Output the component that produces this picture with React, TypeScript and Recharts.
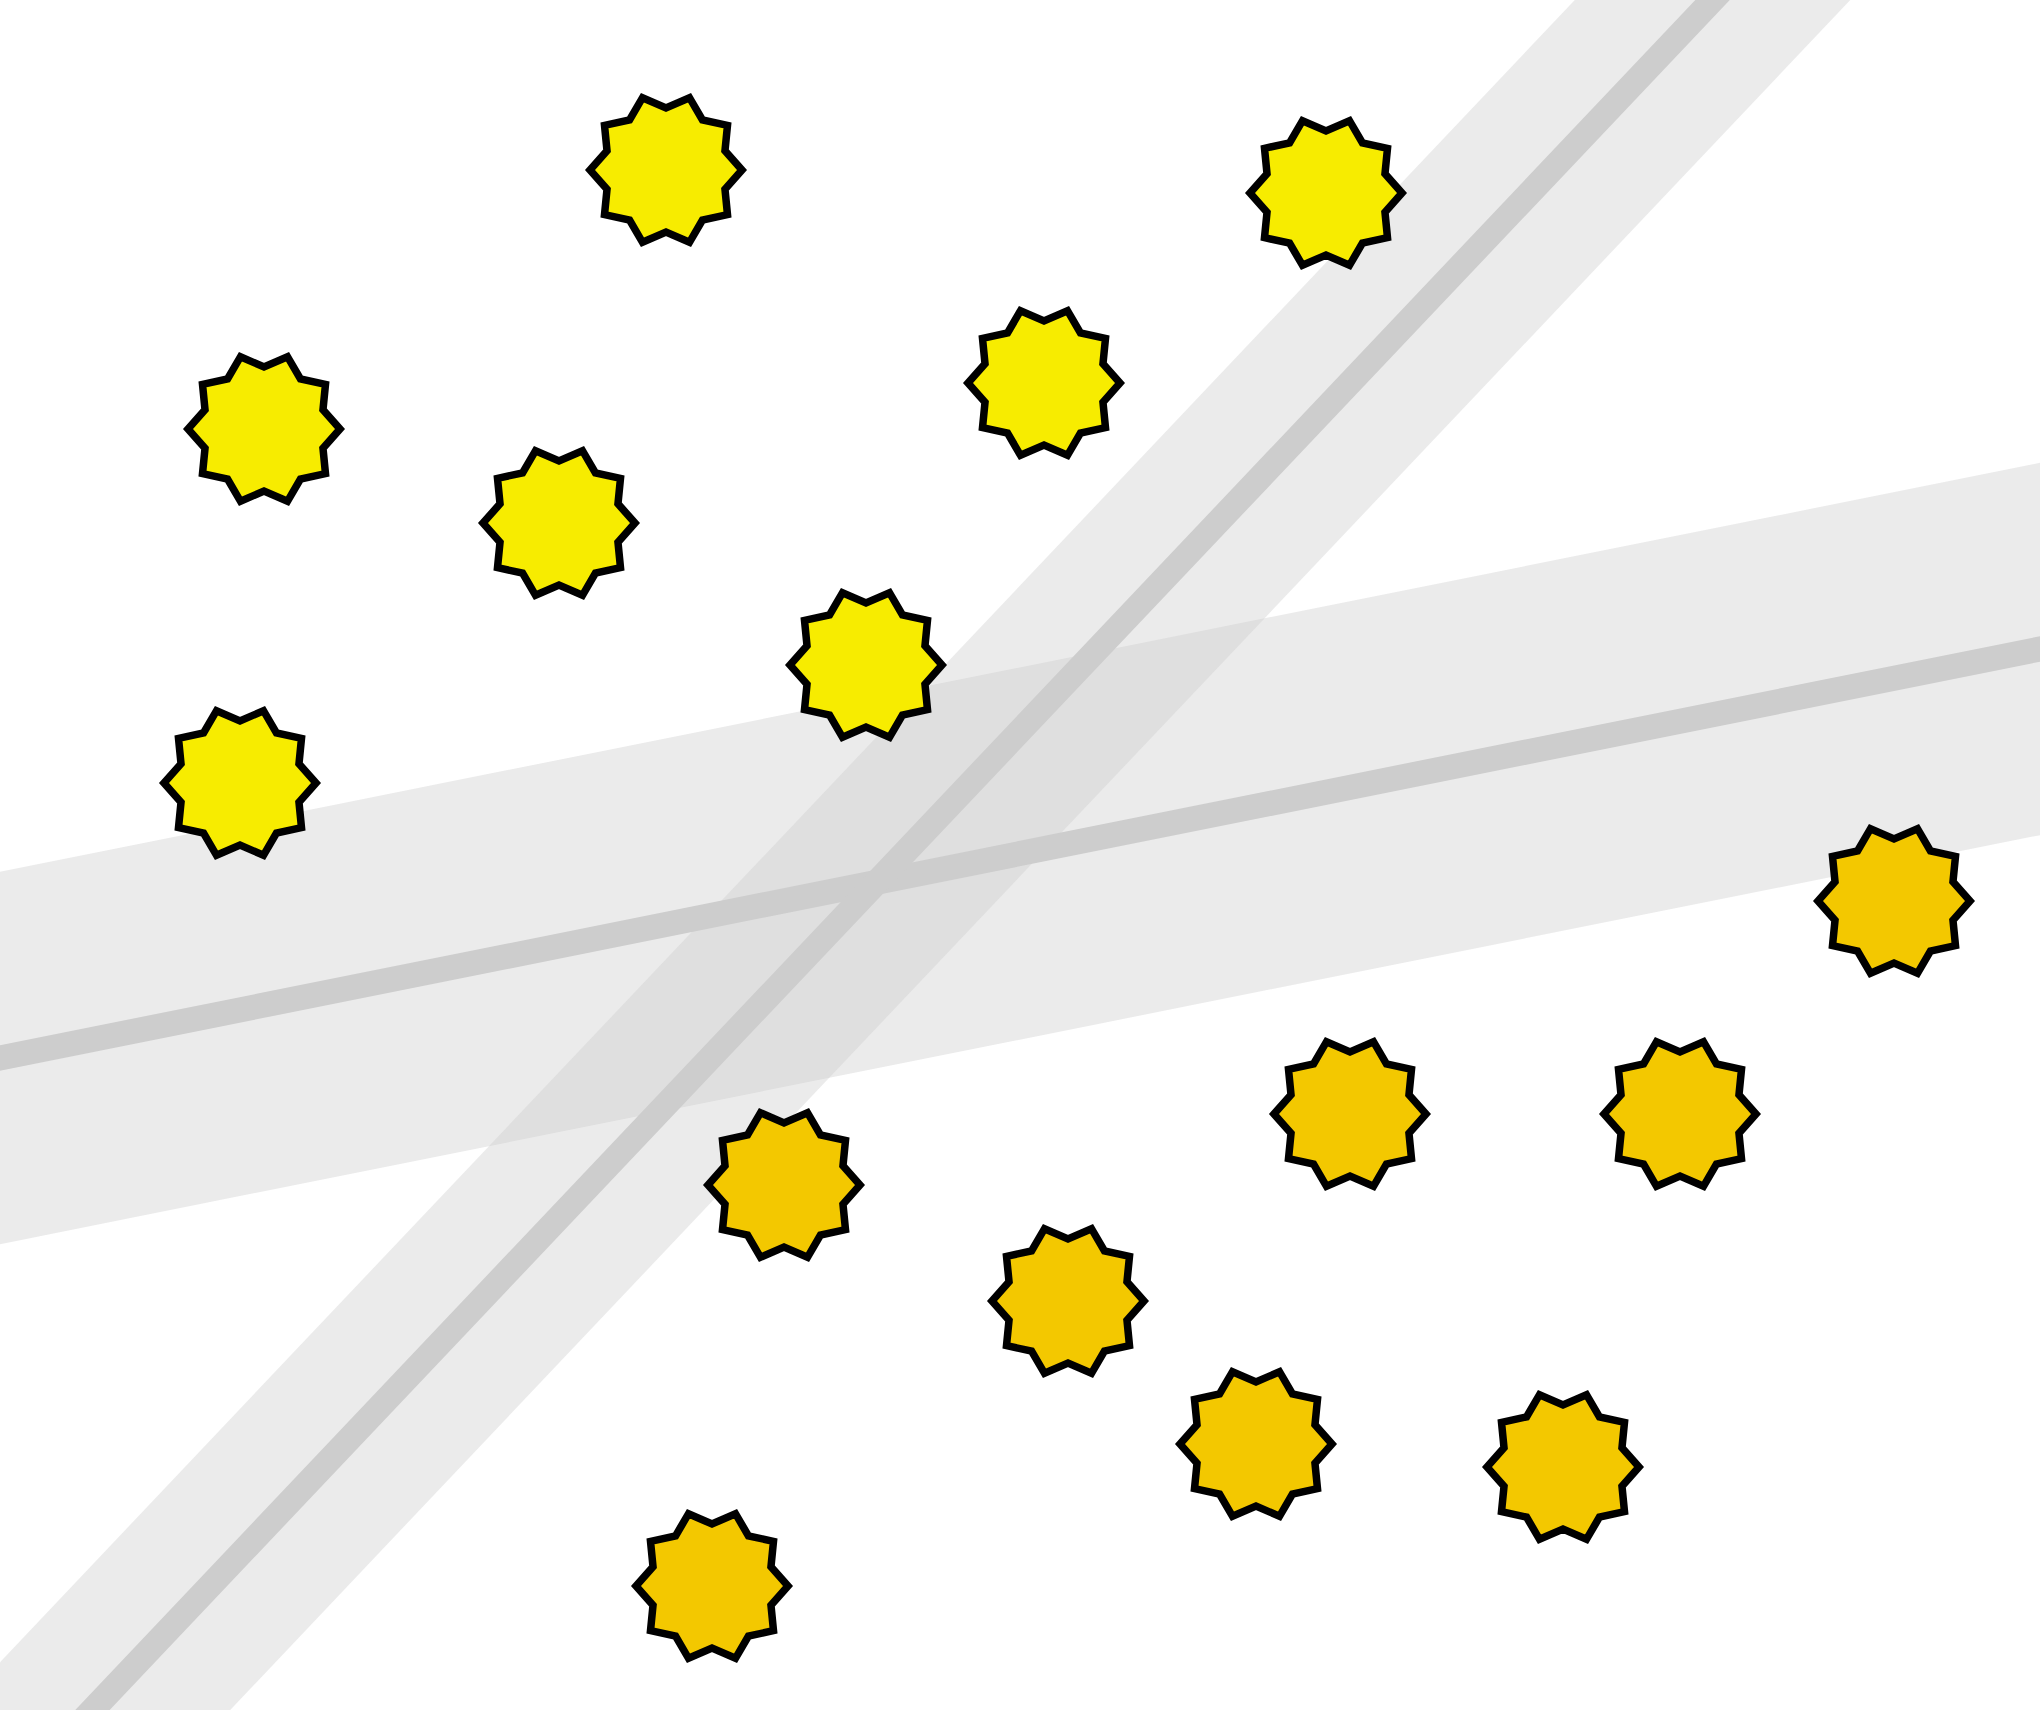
import { ComposedChart, Line, Scatter, XAxis, YAxis } from "recharts";

// two classes of samples (x, y in plot units, y pointing up)
const upperX = [6.66, 13.26, 2.64, 10.44, 5.59, 8.66, 2.4];
const upperY = [15.4, 15.17, 12.81, 13.27, 11.87, 10.45, 9.27];
const lowerX = [18.94, 13.5, 16.8, 7.84, 10.68, 12.56, 15.63, 7.12];
const lowerY = [8.09, 5.96, 5.96, 5.25, 4.09, 2.66, 2.43, 1.24];

// separating lines, given by two points each (extend past the frame)
const flatLineX = [-2, 22.4];
const flatLineY = [6.119, 11.011];
const steepLineX = [-0.97, 19.02];
const steepLineY = [-2, 19.1];

const upper = upperX.map((x, i) => ({ x, y: upperY[i] }));
const lower = lowerX.map((x, i) => ({ x, y: lowerY[i] }));
const flatLine = flatLineX.map((x, i) => ({ x, y: flatLineY[i] }));
const steepLine = steepLineX.map((x, i) => ({ x, y: steepLineY[i] }));

function starPath(cx: number, cy: number) {
  const R = 76;
  const r = 62;
  let d = "";
  for (let i = 0; i < 20; i++) {
    const a = (i * Math.PI) / 10;
    const rad = i % 2 === 0 ? R : r;
    const px = cx + rad * Math.cos(a);
    const py = cy + rad * Math.sin(a);
    d += (i === 0 ? "M" : "L") + px.toFixed(2) + "," + py.toFixed(2);
  }
  return d + "Z";
}

const Star = (fill: string) => (props: any) => {
  const { cx, cy } = props;
  if (cx == null || cy == null) return null;
  return (
    <path
      d={starPath(cx, cy)}
      fill={fill}
      stroke="#000"
      strokeWidth={7.5}
      strokeLinejoin="miter"
    />
  );
};

export default function App() {
  return (
    <div style={{ position: "absolute", left: 0, top: 0, background: "#fff" }}>
      <ComposedChart
        width={2040}
        height={1710}
        margin={{ top: 0, right: 0, bottom: 0, left: 0 }}
      >
        <XAxis
          type="number"
          dataKey="x"
          domain={[0, 20.4]}
          allowDataOverflow
          hide
        />
        <YAxis
          type="number"
          dataKey="y"
          domain={[0, 17.1]}
          allowDataOverflow
          hide
        />
        {/* margin bands */}
        <Line
          data={flatLine}
          dataKey="y"
          type="linear"
          stroke="#cccccc"
          strokeOpacity={0.4}
          strokeWidth={365}
          dot={false}
          activeDot={false}
          isAnimationActive={false}
        />
        <Line
          data={steepLine}
          dataKey="y"
          type="linear"
          stroke="#cccccc"
          strokeOpacity={0.4}
          strokeWidth={200}
          dot={false}
          activeDot={false}
          isAnimationActive={false}
        />
        {/* decision lines */}
        <Line
          data={flatLine}
          dataKey="y"
          type="linear"
          stroke="#cdcdcd"
          strokeWidth={25}
          dot={false}
          activeDot={false}
          isAnimationActive={false}
        />
        <Line
          data={steepLine}
          dataKey="y"
          type="linear"
          stroke="#cdcdcd"
          strokeWidth={25}
          dot={false}
          activeDot={false}
          isAnimationActive={false}
        />
        <Scatter
          data={upper}
          dataKey="y"
          shape={Star("#f7ec00")}
          isAnimationActive={false}
        />
        <Scatter
          data={lower}
          dataKey="y"
          shape={Star("#f3c800")}
          isAnimationActive={false}
        />
      </ComposedChart>
    </div>
  );
}
